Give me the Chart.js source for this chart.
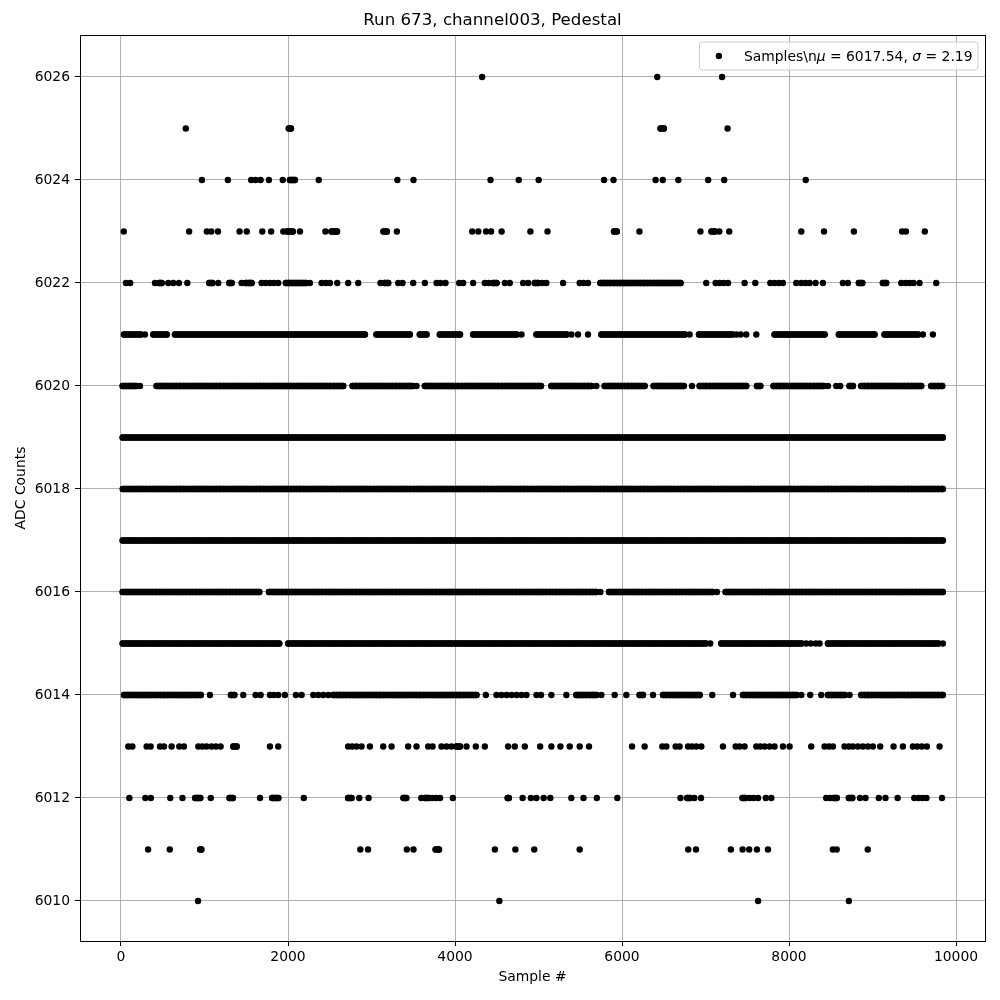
<!DOCTYPE html>
<html>
<head>
<meta charset="utf-8">
<script src="https://cdn.jsdelivr.net/npm/chart.js@4.4.0/dist/chart.umd.min.js"></script>
<style>
  html, body { margin: 0; padding: 0; background: #fff; }
</style>
</head>
<body>
<canvas id="pedestalChart" width="1000" height="1000"></canvas>
<script>
const runTitle = 'Run 673, channel003, Pedestal';
const meanAdc = '6017.54';
const sigmaAdc = '2.19';
const xTicks = [0, 2000, 4000, 6000, 8000, 10000];
const yTicks = [6010, 6012, 6014, 6016, 6018, 6020, 6022, 6024, 6026];
const adcLevels = [6010, 6011, 6012, 6013, 6014, 6015, 6016, 6017, 6018, 6019, 6020, 6021, 6022, 6023, 6024, 6025, 6026];

// sample numbers (x) for every ADC value
const s6026 = [4325, 6422, 7198];
const s6025 = [776, 2010, 2035, 6462, 6501, 7264];
const s6024 = [969, 1280, 1559, 1612, 1672, 1771, 1937, 2023, 2050, 2083, 2368, 3310, 3503, 4425, 4763, 5002, 5785, 5898, 6402, 6488, 6674, 7032, 7224, 8200];
const s6023 = [33, 816, 1028, 1081, 1161, 1420, 1506, 1692, 1798, 1944, 1990, 2023, 2057, 2143, 2448, 2521, 2554, 2587, 3144, 3184, 3304, 4206, 4279, 4372, 4432, 4558, 4903, 5108, 5904, 5937, 6209, 6939, 7072, 7112, 7165, 7284, 8147, 8419, 8777, 9354, 9400, 9626];
const s6022 = [60, 110, 407, 459, 487, 567, 626, 694, 794, 1057, 1093, 1165, 1297, 1325, 1444, 1492, 1536, 1564, 1684, 1732, 1784, 1831, 1883, 1975, 2015, 2055, 2095, 2135, 2175, 2215, 2262, 2402, 2454, 2502, 2590, 2721, 2841, 3108, 3156, 3200, 3320, 3372, 3499, 3639, 3779, 3826, 3886, 4050, 4098, 4217, 4357, 4405, 4457, 4497, 4597, 4656, 4816, 4876, 4956, 4996, 5046, 5094, 5294, 5493, 5541, 5593, 5741, 5781, 5821, 5861, 5901, 5941, 5981, 6021, 6061, 6101, 6141, 6181, 6221, 6261, 6301, 6341, 6381, 6421, 6461, 6501, 6541, 6581, 6621, 6661, 6701, 7009, 7121, 7169, 7217, 7269, 7468, 7596, 7776, 7827, 7879, 7927, 8087, 8147, 8199, 8247, 8318, 8406, 8645, 8705, 8837, 8877, 9124, 9164, 9344, 9396, 9443, 9491, 9563, 9763];
const s6021 = [36, 76, 116, 156, 196, 236, 287, 387, 427, 467, 507, 547, 646, 686, 726, 766, 806, 846, 886, 926, 966, 1006, 1046, 1086, 1126, 1166, 1206, 1246, 1286, 1326, 1366, 1406, 1446, 1486, 1526, 1566, 1606, 1646, 1686, 1726, 1766, 1806, 1846, 1886, 1926, 1966, 2006, 2046, 2086, 2126, 2166, 2206, 2246, 2286, 2326, 2366, 2406, 2446, 2486, 2526, 2566, 2606, 2646, 2686, 2726, 2766, 2806, 2846, 2886, 2921, 3060, 3100, 3140, 3180, 3220, 3260, 3300, 3340, 3380, 3420, 3459, 3579, 3619, 3659, 3818, 3858, 3898, 3938, 3978, 4018, 4060, 4217, 4257, 4297, 4337, 4377, 4417, 4457, 4497, 4537, 4577, 4617, 4657, 4697, 4737, 4796, 4976, 5016, 5056, 5096, 5136, 5176, 5216, 5256, 5296, 5336, 5394, 5473, 5593, 5753, 5793, 5833, 5873, 5913, 5953, 5993, 6033, 6073, 6113, 6153, 6193, 6233, 6273, 6313, 6353, 6393, 6433, 6473, 6513, 6553, 6593, 6633, 6673, 6713, 6753, 6810, 6922, 6962, 7002, 7042, 7082, 7122, 7162, 7202, 7242, 7282, 7322, 7369, 7420, 7488, 7608, 7827, 7867, 7907, 7947, 7987, 8027, 8067, 8107, 8147, 8187, 8227, 8267, 8307, 8347, 8387, 8426, 8597, 8637, 8677, 8717, 8757, 8797, 8837, 8877, 8917, 8957, 8995, 9024, 9144, 9184, 9224, 9264, 9304, 9344, 9384, 9424, 9464, 9504, 9544, 9603, 9723];
const s6020 = [20, 60, 100, 140, 180, 227, 427, 467, 507, 547, 587, 627, 667, 707, 747, 787, 827, 867, 907, 947, 987, 1027, 1067, 1107, 1147, 1187, 1227, 1267, 1307, 1347, 1387, 1427, 1467, 1507, 1547, 1587, 1627, 1667, 1707, 1747, 1787, 1827, 1867, 1907, 1947, 1987, 2027, 2067, 2107, 2147, 2187, 2227, 2267, 2307, 2347, 2387, 2427, 2467, 2507, 2547, 2587, 2627, 2661, 2773, 2813, 2853, 2893, 2933, 2973, 3013, 3053, 3093, 3133, 3173, 3213, 3253, 3293, 3333, 3373, 3413, 3453, 3493, 3539, 3639, 3679, 3719, 3759, 3799, 3839, 3879, 3919, 3959, 3999, 4039, 4079, 4119, 4159, 4199, 4239, 4279, 4319, 4359, 4399, 4439, 4479, 4519, 4559, 4599, 4639, 4679, 4719, 4759, 4799, 4839, 4879, 4919, 4959, 4999, 5030, 5154, 5194, 5234, 5274, 5314, 5354, 5394, 5434, 5474, 5514, 5554, 5594, 5634, 5693, 5793, 5833, 5873, 5913, 5953, 5993, 6033, 6073, 6113, 6153, 6193, 6233, 6271, 6379, 6419, 6459, 6499, 6539, 6579, 6619, 6659, 6699, 6739, 6838, 6930, 6970, 7010, 7050, 7090, 7130, 7170, 7210, 7250, 7290, 7330, 7370, 7410, 7450, 7488, 7616, 7656, 7815, 7855, 7895, 7935, 7975, 8015, 8055, 8095, 8135, 8175, 8215, 8255, 8295, 8335, 8375, 8415, 8466, 8566, 8613, 8725, 8765, 8865, 8905, 8945, 8985, 9025, 9065, 9105, 9145, 9185, 9225, 9265, 9305, 9345, 9385, 9425, 9465, 9505, 9545, 9583, 9703, 9745, 9790, 9834];
const s6019 = [20, 60, 100, 140, 180, 220, 260, 300, 340, 380, 420, 460, 500, 540, 580, 620, 660, 700, 740, 780, 820, 860, 900, 940, 980,
    1020, 1060, 1100, 1140, 1180, 1220, 1260, 1300, 1340, 1380, 1420, 1460, 1500, 1540, 1580, 1620, 1660, 1700, 1740, 1780, 1820, 1860, 1900, 1940, 1980,
    2020, 2060, 2100, 2140, 2180, 2220, 2260, 2300, 2340, 2380, 2420, 2460, 2500, 2540, 2580, 2620, 2660, 2700, 2740, 2780, 2820, 2860, 2900, 2940, 2980,
    3020, 3060, 3100, 3140, 3180, 3220, 3260, 3300, 3340, 3380, 3420, 3460, 3500, 3540, 3580, 3620, 3660, 3700, 3740, 3780, 3820, 3860, 3900, 3940, 3980,
    4020, 4060, 4100, 4140, 4180, 4220, 4260, 4300, 4340, 4380, 4420, 4460, 4500, 4540, 4580, 4620, 4660, 4700, 4740, 4780, 4820, 4860, 4900, 4940, 4980,
    5020, 5060, 5100, 5140, 5180, 5220, 5260, 5300, 5340, 5380, 5420, 5460, 5500, 5540, 5580, 5620, 5660, 5700, 5740, 5780, 5820, 5860, 5900, 5940, 5980,
    6020, 6060, 6100, 6140, 6180, 6220, 6260, 6300, 6340, 6380, 6420, 6460, 6500, 6540, 6580, 6620, 6660, 6700, 6740, 6780, 6820, 6860, 6900, 6940, 6980,
    7020, 7060, 7100, 7140, 7180, 7220, 7260, 7300, 7340, 7380, 7420, 7460, 7500, 7540, 7580, 7620, 7660, 7700, 7740, 7780, 7820, 7860, 7900, 7940, 7980,
    8020, 8060, 8100, 8140, 8180, 8220, 8260, 8300, 8340, 8380, 8420, 8460, 8500, 8540, 8580, 8620, 8660, 8700, 8740, 8780, 8820, 8860, 8900, 8940, 8980,
    9020, 9060, 9100, 9140, 9180, 9220, 9260, 9300, 9340, 9380, 9420, 9460, 9500, 9540, 9580, 9620, 9660, 9700, 9740, 9780, 9820, 9842];
const s6018 = [22, 65, 105, 145, 185, 225, 265, 305, 345, 385, 425, 465, 505, 545, 585, 625, 665, 705, 745, 785, 825, 865, 905, 945, 985,
    1025, 1065, 1105, 1145, 1185, 1225, 1265, 1305, 1345, 1385, 1425, 1465, 1505, 1545, 1585, 1625, 1665, 1705, 1745, 1785, 1825, 1865, 1905, 1945, 1985,
    2025, 2065, 2105, 2145, 2185, 2225, 2265, 2305, 2345, 2385, 2425, 2465, 2505, 2545, 2585, 2625, 2665, 2705, 2745, 2785, 2825, 2865, 2905, 2945, 2985,
    3025, 3065, 3105, 3145, 3185, 3225, 3265, 3305, 3345, 3385, 3425, 3465, 3505, 3545, 3585, 3625, 3665, 3705, 3745, 3785, 3825, 3865, 3905, 3945, 3985,
    4025, 4065, 4105, 4145, 4185, 4225, 4265, 4305, 4345, 4385, 4425, 4465, 4505, 4545, 4585, 4625, 4665, 4705, 4745, 4785, 4825, 4865, 4905, 4945, 4985,
    5025, 5065, 5105, 5145, 5185, 5225, 5265, 5305, 5345, 5385, 5425, 5465, 5505, 5545, 5585, 5625, 5665, 5705, 5745, 5785, 5825, 5865, 5905, 5945, 5985,
    6025, 6065, 6105, 6145, 6185, 6225, 6265, 6305, 6345, 6385, 6425, 6465, 6505, 6545, 6585, 6625, 6665, 6705, 6745, 6785, 6825, 6865, 6905, 6945, 6985,
    7025, 7065, 7105, 7145, 7185, 7225, 7265, 7305, 7345, 7385, 7425, 7465, 7505, 7545, 7585, 7625, 7665, 7705, 7745, 7785, 7825, 7865, 7905, 7945, 7985,
    8025, 8065, 8105, 8145, 8185, 8225, 8265, 8305, 8345, 8385, 8425, 8465, 8505, 8545, 8585, 8625, 8665, 8705, 8745, 8785, 8825, 8865, 8905, 8945, 8985,
    9025, 9065, 9105, 9145, 9185, 9225, 9265, 9305, 9345, 9385, 9425, 9465, 9505, 9545, 9585, 9625, 9665, 9705, 9745, 9785, 9825, 9842];
const s6017 = [20, 58, 98, 138, 178, 218, 258, 298, 338, 378, 418, 458, 498, 538, 578, 618, 658, 698, 738, 778, 818, 858, 898, 938, 978,
    1018, 1058, 1098, 1138, 1178, 1218, 1258, 1298, 1338, 1378, 1418, 1458, 1498, 1538, 1578, 1618, 1658, 1698, 1738, 1778, 1818, 1858, 1898, 1938, 1978,
    2018, 2058, 2098, 2138, 2178, 2218, 2258, 2298, 2338, 2378, 2418, 2458, 2498, 2538, 2578, 2618, 2658, 2698, 2738, 2778, 2818, 2858, 2898, 2938, 2978,
    3018, 3058, 3098, 3138, 3178, 3218, 3258, 3298, 3338, 3378, 3418, 3458, 3498, 3538, 3578, 3618, 3658, 3698, 3738, 3778, 3818, 3858, 3898, 3938, 3978,
    4018, 4058, 4098, 4138, 4178, 4218, 4258, 4298, 4338, 4378, 4418, 4458, 4498, 4538, 4578, 4618, 4658, 4698, 4738, 4778, 4818, 4858, 4898, 4938, 4978,
    5018, 5058, 5098, 5138, 5178, 5218, 5258, 5298, 5338, 5378, 5418, 5458, 5498, 5538, 5578, 5618, 5658, 5698, 5738, 5778, 5818, 5858, 5898, 5938, 5978,
    6018, 6058, 6098, 6138, 6178, 6218, 6258, 6298, 6338, 6378, 6418, 6458, 6498, 6538, 6578, 6618, 6658, 6698, 6738, 6778, 6818, 6858, 6898, 6938, 6978,
    7018, 7058, 7098, 7138, 7178, 7218, 7258, 7298, 7338, 7378, 7418, 7458, 7498, 7538, 7578, 7618, 7658, 7698, 7738, 7778, 7818, 7858, 7898, 7938, 7978,
    8018, 8058, 8098, 8138, 8178, 8218, 8258, 8298, 8338, 8378, 8418, 8458, 8498, 8538, 8578, 8618, 8658, 8698, 8738, 8778, 8818, 8858, 8898, 8938, 8978,
    9018, 9058, 9098, 9138, 9178, 9218, 9258, 9298, 9338, 9378, 9418, 9458, 9498, 9538, 9578, 9618, 9658, 9698, 9738, 9778, 9818, 9842];
const s6016 = [20, 60, 100, 140, 180, 220, 260, 300, 340, 380, 420, 460, 500, 540, 580, 620, 660, 700, 740, 780, 820, 860, 900, 940, 980, 1020, 1060, 1100, 1140, 1180, 1220, 1260, 1300, 1340, 1380, 1420, 1460, 1500, 1540, 1580, 1620, 1656,
    1772, 1812, 1852, 1892, 1932, 1972, 2012, 2052, 2092, 2132, 2172, 2212, 2252, 2292, 2332, 2372, 2412, 2452, 2492, 2532, 2572, 2612, 2652, 2692, 2732, 2772, 2812, 2852, 2892, 2932, 2972,
    3012, 3052, 3092, 3132, 3172, 3212, 3252, 3292, 3332, 3372, 3412, 3452, 3492, 3532, 3572, 3612, 3652, 3692, 3732, 3772, 3812, 3852, 3892, 3932, 3972,
    4012, 4052, 4092, 4132, 4172, 4212, 4252, 4292, 4332, 4372, 4412, 4452, 4492, 4532, 4572, 4612, 4652, 4692, 4732, 4772, 4812, 4852, 4892, 4932, 4972,
    5012, 5052, 5092, 5132, 5172, 5212, 5252, 5292, 5332, 5372, 5412, 5452, 5492, 5532, 5572, 5612, 5652, 5692, 5741,
    5844, 5884, 5924, 5964, 6004, 6044, 6084, 6124, 6164, 6204, 6244, 6284, 6324, 6364, 6404, 6444, 6484, 6524, 6564, 6604, 6644, 6684, 6724, 6764, 6804, 6844, 6884, 6924, 6964, 7004, 7044, 7084, 7137,
    7241, 7281, 7321, 7361, 7401, 7441, 7481, 7521, 7561, 7601, 7641, 7681, 7721, 7761, 7801, 7841, 7881, 7921, 7961, 8001, 8041, 8081, 8121, 8161, 8201, 8241, 8281, 8321, 8361, 8401, 8441, 8481, 8521, 8561, 8601, 8641, 8681, 8721, 8761, 8801, 8841, 8881, 8921, 8961,
    9001, 9041, 9081, 9121, 9161, 9201, 9241, 9281, 9321, 9361, 9401, 9441, 9481, 9521, 9561, 9601, 9641, 9681, 9721, 9761, 9801, 9842];
const s6015 = [20, 60, 100, 140, 180, 220, 260, 300, 340, 380, 420, 460, 500, 540, 580, 620, 660, 700, 740, 780, 820, 860, 900, 940, 980, 1020, 1060, 1100, 1140, 1180, 1220, 1260, 1300, 1340, 1380, 1420, 1460, 1500, 1540, 1580, 1620, 1660, 1700, 1740, 1780, 1820, 1860, 1895,
    2003, 2043, 2083, 2123, 2163, 2203, 2243, 2283, 2323, 2363, 2403, 2443, 2483, 2523, 2563, 2603, 2643, 2683, 2723, 2763, 2803, 2843, 2883, 2923, 2963,
    3003, 3043, 3083, 3123, 3163, 3203, 3243, 3283, 3323, 3363, 3403, 3443, 3483, 3523, 3563, 3603, 3643, 3683, 3723, 3763, 3803, 3843, 3883, 3923, 3963,
    4003, 4043, 4083, 4123, 4163, 4203, 4243, 4283, 4323, 4363, 4403, 4443, 4483, 4523, 4563, 4603, 4643, 4683, 4723, 4763, 4803, 4843, 4883, 4923, 4963,
    5003, 5043, 5083, 5123, 5163, 5203, 5243, 5283, 5323, 5363, 5403, 5443, 5483, 5523, 5563, 5603, 5643, 5683, 5723, 5763, 5803, 5843, 5883, 5923, 5963,
    6003, 6043, 6083, 6123, 6163, 6203, 6243, 6283, 6323, 6363, 6403, 6443, 6483, 6523, 6563, 6603, 6643, 6683, 6723, 6763, 6803, 6843, 6883, 6923, 6963, 7003, 7057,
    7189, 7229, 7269, 7309, 7349, 7389, 7429, 7469, 7509, 7549, 7589, 7629, 7669, 7709, 7749, 7789, 7829, 7869, 7909, 7949, 7989, 8029, 8069, 8109, 8149, 8205, 8260, 8320, 8366,
    8466, 8506, 8546, 8586, 8626, 8666, 8706, 8746, 8786, 8826, 8866, 8906, 8946, 8986, 9026, 9066, 9106, 9146, 9186, 9226, 9266, 9306, 9346, 9386, 9426, 9466, 9506, 9546, 9586, 9626, 9666, 9706, 9746, 9786, 9842];
const s6014 = [36, 76, 116, 156, 196, 236, 276, 316, 356, 396, 436, 476, 516, 556, 596, 636, 676, 716, 756, 796, 836, 876, 916, 956, 1065, 1317, 1357, 1464, 1612, 1672, 1784, 1831, 1883, 1963, 2095, 2163,
    2302, 2362, 2422, 2482, 2540, 2580, 2620, 2660, 2700, 2740, 2780, 2820, 2860, 2900, 2940, 2980, 3020, 3060, 3100, 3140, 3180, 3220, 3260, 3300, 3340, 3380, 3420, 3460, 3500, 3540, 3580, 3620, 3660, 3700, 3740, 3780, 3820, 3860, 3900, 3940, 3980, 4020, 4060, 4100, 4140, 4180, 4220, 4257,
    4369, 4497, 4557, 4617, 4677, 4737, 4797, 4856, 4976, 5030, 5154, 5334, 5453, 5493, 5533, 5573, 5613, 5653, 5693, 5753, 5912, 6052, 6211, 6251, 6371,
    6491, 6531, 6571, 6611, 6651, 6691, 6731, 6771, 6811, 6851, 6891, 6930, 7081, 7329,
    7448, 7488, 7528, 7568, 7608, 7648, 7688, 7728, 7768, 7808, 7848, 7888, 7928, 7968, 8008, 8048, 8088, 8147, 8254, 8386, 8466, 8506, 8546, 8586, 8626, 8666, 8725,
    8865, 8905, 8945, 8985, 9025, 9065, 9105, 9145, 9185, 9225, 9265, 9305, 9345, 9385, 9425, 9465, 9505, 9545, 9585, 9625, 9665, 9705, 9745, 9785, 9825, 9842];
const s6013 = [88, 136, 307, 355, 467, 515, 606, 698, 754, 926, 974, 1025, 1085, 1137, 1193, 1345, 1385, 1784, 1883, 2721, 2769, 2821, 2881, 2981, 3140, 3240, 3439, 3539, 3679, 3731, 3838, 3898, 3958, 4018, 4058, 4138, 4249, 4357, 4636, 4716, 4836, 5020, 5154, 5262, 5374, 5493, 5605, 6120, 6271, 6483, 6531, 6642, 6690, 6790, 6838, 6890, 6950, 7209, 7361, 7408, 7468, 7608, 7656, 7708, 7768, 7827, 7927, 8007, 8266, 8426, 8478, 8526, 8665, 8717, 8765, 8825, 8885, 8945, 9004, 9092, 9252, 9364, 9483, 9535, 9591, 9651, 9803];
const s6012 = [100, 292, 358, 590, 736, 889, 915, 949, 1075, 1300, 1340, 1665, 1811, 1851, 1884, 2189, 2720, 2760, 2853, 2965, 3383, 3416, 3596, 3642, 3682, 3728, 3775, 3821, 3974, 4631, 4644, 4810, 4909, 4975, 5062, 5141, 5393, 5539, 5698, 5944, 6700, 6780, 6813, 6866, 6946, 7444, 7477, 7530, 7576, 7629, 7722, 7788, 8445, 8492, 8538, 8571, 8717, 8757, 8850, 8916, 9075, 9155, 9301, 9500, 9553, 9600, 9646, 9832];
const s6011 = [325, 584, 949, 962, 2866, 2959, 3423, 3503, 3768, 3808, 4478, 4723, 4949, 5493, 6793, 6886, 7304, 7444, 7523, 7616, 7748, 8525, 8571, 8943];
const s6010 = [922, 4531, 7629, 8717];

const samplesByLevel = {
    6010: s6010, 6011: s6011, 6012: s6012, 6013: s6013, 6014: s6014, 6015: s6015,
    6016: s6016, 6017: s6017, 6018: s6018, 6019: s6019, 6020: s6020, 6021: s6021,
    6022: s6022, 6023: s6023, 6024: s6024, 6025: s6025, 6026: s6026
};

const points = [];
adcLevels.forEach(function (level) {
    samplesByLevel[level].forEach(function (x) {
        points.push({x: x, y: level});
    });
});

const markerRadius = 3.2;
// neighbouring samples on one level closer than this overlap into a solid band
const overlapGap = 45;

const fontFamily = '"DejaVu Sans", "Liberation Sans", sans-serif';
const tickFont = {family: fontFamily, size: 13.9};

// axes frame on all four sides, like matplotlib spines
const framePlugin = {
    id: 'frame',
    afterDatasetsDraw(chart) {
        const a = chart.chartArea;
        const ctx = chart.ctx;
        ctx.save();
        ctx.strokeStyle = '#000';
        ctx.lineWidth = 1;
        ctx.strokeRect(Math.round(a.left) + 0.5, Math.round(a.top) + 0.5, Math.round(a.right - a.left), Math.round(a.bottom - a.top));
        ctx.restore();
    }
};

// legend box in the upper right corner of the axes
const legendPlugin = {
    id: 'cornerLegend',
    afterDraw(chart) {
        const ctx = chart.ctx;
        const a = chart.chartArea;
        const fs = 13.9;
        const parts = [
            {t: 'Samples\\n', it: false},
            {t: 'μ', it: true},
            {t: ' = ' + meanAdc + ', ', it: false},
            {t: 'σ', it: true},
            {t: ' = ' + sigmaAdc, it: false}
        ];
        ctx.save();
        let textW = 0;
        parts.forEach(function (p) {
            ctx.font = (p.it ? 'italic ' : '') + fs + 'px ' + fontFamily;
            p.w = ctx.measureText(p.t).width;
            textW += p.w;
        });
        const pad = 0.4 * fs, handleLen = 2 * fs, handlePad = 0.8 * fs;
        const right = a.right - 0.5 * fs;
        const top = a.top + 0.5 * fs;
        const h = 28;
        const w = pad + handleLen + handlePad + textW + pad;
        const left = right - w;
        ctx.beginPath();
        ctx.roundRect(left, top, w, h, 3);
        ctx.fillStyle = 'rgba(255,255,255,0.8)';
        ctx.fill();
        ctx.strokeStyle = '#cccccc';
        ctx.lineWidth = 1;
        ctx.stroke();
        const cy = top + h / 2;
        ctx.beginPath();
        ctx.arc(left + pad + handleLen / 2, cy, markerRadius, 0, Math.PI * 2);
        ctx.fillStyle = '#000';
        ctx.fill();
        ctx.textBaseline = 'middle';
        let x = left + pad + handleLen + handlePad;
        parts.forEach(function (p) {
            ctx.font = (p.it ? 'italic ' : '') + fs + 'px ' + fontFamily;
            ctx.fillText(p.t, x, cy + 1);
            x += p.w;
        });
        ctx.restore();
    }
};

const ctx = document.getElementById('pedestalChart').getContext('2d');

const pedestalChart = new Chart(ctx, {
    type: 'scatter',
    data: {
        datasets: [{
            label: 'Samples\\nμ = ' + meanAdc + ', σ = ' + sigmaAdc,
            data: points,
            showLine: true,
            borderColor: '#000000',
            borderWidth: markerRadius * 2,
            borderCapStyle: 'round',
            borderJoinStyle: 'round',
            segment: {
                borderColor: function (c) {
                    const dx = c.p1.parsed.x - c.p0.parsed.x;
                    const same = c.p1.parsed.y === c.p0.parsed.y;
                    return same && dx > 0 && dx <= overlapGap ? '#000000' : 'rgba(0,0,0,0)';
                }
            },
            pointBackgroundColor: '#000000',
            pointBorderWidth: 0,
            pointRadius: markerRadius,
            pointHoverRadius: markerRadius
        }]
    },
    options: {
        responsive: false,
        animation: false,
        events: [],
        layout: {padding: {left: 0, right: 15, top: 0, bottom: 0}},
        plugins: {
            legend: {display: false},
            tooltip: {enabled: false},
            title: {
                display: true,
                text: runTitle,
                color: '#000',
                font: {family: fontFamily, size: 16.67, weight: 'normal'},
                padding: {top: 11, bottom: 4}
            }
        },
        scales: {
            x: {
                type: 'linear',
                min: -491,
                max: 10347,
                afterBuildTicks: function (scale) {
                    scale.ticks = xTicks.map(function (v) { return {value: v}; });
                },
                afterFit: function (scale) { scale.height = 59; },
                grid: {color: '#b0b0b0', lineWidth: 1, tickColor: '#000', tickLength: 5},
                border: {color: '#000', width: 1},
                ticks: {
                    color: '#000', font: tickFont, padding: 3, maxRotation: 0, autoSkip: false,
                    callback: function (v) { return String(v); }
                },
                title: {
                    display: true, text: 'Sample #', color: '#000', font: tickFont,
                    padding: {top: 0, bottom: 14.7}
                }
            },
            y: {
                type: 'linear',
                min: 6009.223,
                max: 6026.815,
                afterBuildTicks: function (scale) {
                    scale.ticks = yTicks.map(function (v) { return {value: v}; });
                },
                afterFit: function (scale) { scale.width = 80; },
                grid: {color: '#b0b0b0', lineWidth: 1, tickColor: '#000', tickLength: 5},
                border: {color: '#000', width: 1},
                ticks: {
                    color: '#000', font: tickFont, padding: 5, autoSkip: false,
                    callback: function (v) { return String(v); }
                },
                title: {
                    display: true, text: 'ADC Counts', color: '#000', font: tickFont,
                    padding: {top: 12.7, bottom: 0}
                }
            }
        }
    },
    plugins: [framePlugin, legendPlugin]
});
</script>
</body>
</html>
